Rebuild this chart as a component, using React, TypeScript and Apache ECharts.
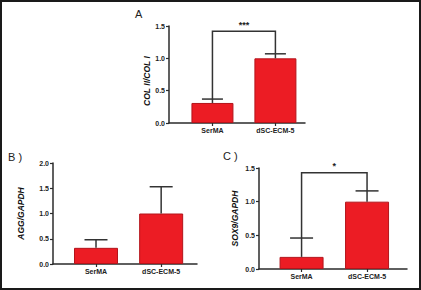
import React, { useEffect, useRef } from "react";
import * as echarts from "echarts";

// ---- data ----
const categories = ["SerMA", "dSC-ECM-5"];
const catPos = [1, 2];

const colValues = [0.31, 1.0];
const colErrTop = [0.37, 1.07];

const aggValues = [0.32, 1.0];
const aggErrTop = [0.48, 1.53];

const soxValues = [0.18, 1.0];
const soxErrTop = [0.46, 1.16];

const yMaxA = 1.5;
const yMaxB = 2.0;
const yMaxC = 1.5;
const yInterval = 0.5;

const sigLevelA = 1.42;
const sigTextA = "***";
const sigLevelC = 1.43;
const sigTextC = "*";

const FONT = "'Liberation Sans', Arial, Helvetica, sans-serif";
const AXIS = "#2b2b2b";
const BAR = "#EC1C24";
const BAR_BORDER = "#B3141B";

function xAxisCfg(gridIndex: number, min: number, max: number) {
  return {
    type: "value" as const,
    gridIndex,
    min,
    max,
    splitLine: { show: false },
    axisLine: { show: true, onZero: false, lineStyle: { color: AXIS, width: 1.5 } },
    axisTick: { show: true, customValues: catPos, length: 3, lineStyle: { color: AXIS, width: 1.2 } },
    axisLabel: {
      customValues: catPos,
      formatter: (v: number) => categories[catPos.indexOf(Math.round(v))] ?? "",
      fontFamily: FONT,
      fontWeight: "bold" as const,
      fontSize: 7,
      color: "#222",
      margin: 4,
    },
  };
}

function yAxisCfg(gridIndex: number, max: number, name: string, nameGap: number, padding?: number[]) {
  return {
    type: "value" as const,
    gridIndex,
    min: 0,
    max,
    interval: yInterval,
    splitLine: { show: false },
    axisLine: { show: true, lineStyle: { color: AXIS, width: 1.5 } },
    axisTick: { show: true, length: 3, lineStyle: { color: AXIS, width: 1.2 } },
    axisLabel: {
      formatter: (v: number) => v.toFixed(1),
      fontFamily: FONT,
      fontWeight: "bold" as const,
      fontSize: 7,
      color: "#222",
      margin: 4,
    },
    name,
    nameLocation: "middle" as const,
    nameGap,
    nameTextStyle: {
      fontFamily: FONT,
      fontWeight: "bold" as const,
      fontStyle: "italic" as const,
      fontSize: 8.5,
      color: "#111",
      padding: padding ?? [0, 0, 0, 0],
    },
  };
}

function barSeries(idx: number, values: number[], width: number) {
  return {
    type: "bar" as const,
    xAxisIndex: idx,
    yAxisIndex: idx,
    barWidth: width,
    data: values.map((v, i) => [catPos[i], v]),
    itemStyle: { color: BAR, borderColor: BAR_BORDER, borderWidth: 1 },
    z: 2,
  };
}

function errSeries(idx: number, values: number[], tops: number[], hw: number) {
  return {
    type: "custom" as const,
    xAxisIndex: idx,
    yAxisIndex: idx,
    z: 3,
    data: values.map((v, i) => [catPos[i], v, tops[i]]),
    encode: { x: 0, y: [1, 2] },
    renderItem: (_p: any, api: any) => {
      const x = api.value(0);
      const p0 = api.coord([x, api.value(1)]);
      const p1 = api.coord([x, api.value(2)]);
      const st = { stroke: "#333", lineWidth: 1.5 };
      return {
        type: "group",
        children: [
          { type: "line", shape: { x1: p0[0], y1: p0[1], x2: p1[0], y2: p1[1] }, style: st },
          { type: "line", shape: { x1: p1[0] - hw, y1: p1[1], x2: p1[0] + hw, y2: p1[1] }, style: st },
        ],
      };
    },
  };
}

function sigSeries(idx: number, tops: number[], level: number, text: string) {
  return {
    type: "custom" as const,
    xAxisIndex: idx,
    yAxisIndex: idx,
    z: 4,
    data: [[catPos[0], tops[0], catPos[1], tops[1], level]],
    encode: { x: [0, 2], y: [1, 3, 4] },
    renderItem: (_p: any, api: any) => {
      const a = api.coord([api.value(0), api.value(1)]);
      const b = api.coord([api.value(2), api.value(3)]);
      const top = api.coord([api.value(0), api.value(4)])[1];
      const st = { stroke: "#333", lineWidth: 1.5, fill: "none" };
      return {
        type: "group",
        children: [
          {
            type: "polyline",
            shape: { points: [[a[0], a[1]], [a[0], top], [b[0], top], [b[0], b[1]]] },
            style: st,
          },
          {
            type: "text",
            style: {
              text,
              x: (a[0] + b[0]) / 2,
              y: top - 2,
              align: "center",
              verticalAlign: "bottom",
              fontFamily: FONT,
              fontWeight: "bold",
              fontSize: 9,
              fill: "#222",
            },
          },
        ],
      };
    },
  };
}

export default function App() {
  const ref = useRef<HTMLDivElement>(null);
  useEffect(() => {
    if (!ref.current) return;
    const chart = echarts.init(ref.current, undefined, { renderer: "svg" });
    chart.setOption({
      animation: false,
      backgroundColor: "#ffffff",
      grid: [
        { left: 169, top: 26, width: 136, height: 97 },
        { left: 53, top: 163, width: 144, height: 101 },
        { left: 259, top: 168, width: 148, height: 101 },
      ],
      xAxis: [xAxisCfg(0, 0.31, 2.47), xAxisCfg(1, 0.34, 2.55), xAxisCfg(2, 0.35, 2.61)],
      yAxis: [
        yAxisCfg(0, yMaxA, "COL II/COL I", 15, [0, 13, 0, 0]),
        yAxisCfg(1, yMaxB, "AGG/GAPDH", 28),
        yAxisCfg(2, yMaxC, "SOX9/GAPDH", 20),
      ],
      series: [
        barSeries(0, colValues, 42),
        barSeries(1, aggValues, 44),
        barSeries(2, soxValues, 44),
        errSeries(0, colValues, colErrTop, 10.5),
        errSeries(1, aggValues, aggErrTop, 11.5),
        errSeries(2, soxValues, soxErrTop, 11.5),
        sigSeries(0, colErrTop, sigLevelA, sigTextA),
        sigSeries(2, soxErrTop, sigLevelC, sigTextC),
      ],
      graphic: [
        {
          type: "rect",
          shape: { x: 1, y: 1, width: 419, height: 288 },
          style: { fill: "none", stroke: "#1a1a1a", lineWidth: 2 },
          silent: true,
        },
        {
          type: "text",
          style: { text: "A", x: 135, y: 14, verticalAlign: "middle", fontFamily: FONT, fontSize: 11, fill: "#222" },
        },
        {
          type: "text",
          style: { text: "B )", x: 8, y: 157, verticalAlign: "middle", fontFamily: FONT, fontSize: 11, fill: "#222" },
        },
        {
          type: "text",
          style: { text: "C )", x: 223, y: 156, verticalAlign: "middle", fontFamily: FONT, fontSize: 11, fill: "#222" },
        },
      ],
    });
    return () => chart.dispose();
  }, []);
  return (
    <div
      ref={ref}
      style={{ position: "fixed", left: 0, top: 0, width: 421, height: 290, background: "#fff" }}
    />
  );
}
